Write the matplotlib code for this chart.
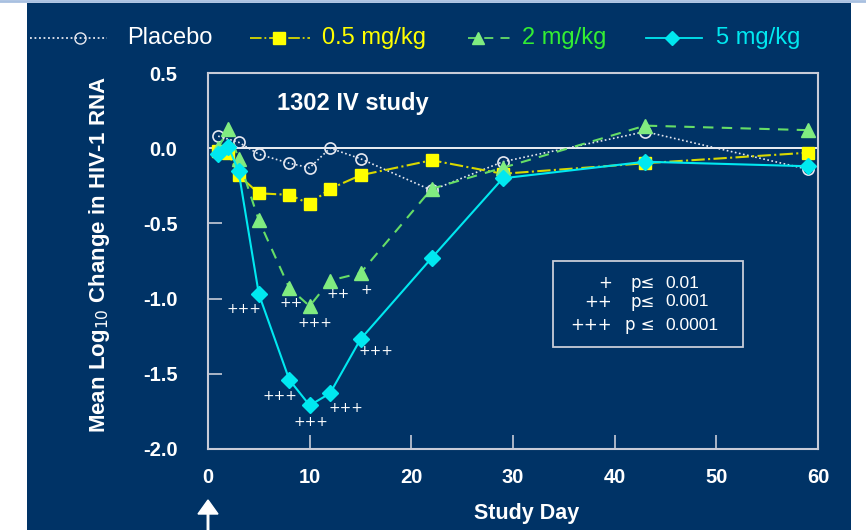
import matplotlib
matplotlib.use("Agg")
import matplotlib.pyplot as plt
from matplotlib.patches import Rectangle, FancyArrow
from matplotlib.lines import Line2D
from matplotlib import font_manager

# ---------------- data ----------------
days_placebo = [1, 3, 5, 8, 10, 12, 15, 22, 29, 43, 59]
placebo = [0.08, 0.04, -0.04, -0.10, -0.13, 0.00, -0.07, -0.28, -0.09, 0.11, -0.14]

days_dose = [1, 2, 3, 5, 8, 10, 12, 15, 22, 29, 43, 59]
mg05 = [-0.02, -0.03, -0.18, -0.30, -0.31, -0.37, -0.27, -0.18, -0.08, -0.17, -0.10, -0.03]
mg2 = [0.00, 0.13, -0.07, -0.48, -0.93, -1.05, -0.88, -0.83, -0.27, -0.13, 0.15, 0.12]
mg5 = [-0.04, 0.01, -0.15, -0.97, -1.54, -1.71, -1.63, -1.27, -0.73, -0.20, -0.09, -0.12]

# significance marks
sig_x = [3.5, 8.2, 10.5, 12.8, 15.6, 7.1, 10.1, 13.6, 16.5]
sig_y = [-1.07, -1.03, -1.16, -0.97, -0.94, -1.65, -1.82, -1.73, -1.35]
sig_lbl = ["+++", "++", "+++", "++", "+", "+++", "+++", "+++", "+++"]

xticks = [0, 10, 20, 30, 40, 50, 60]
yticks = [0.5, 0.0, -0.5, -1.0, -1.5, -2.0]

NAVY = "#003366"
SPINE = "#c8ccd8"
C_PLA = "#e6e8f0"
C_05 = "#ffff00"
C_05L = "#d8d800"
C_2 = "#80ec80"
C_2L = "#66dd66"
C_2T = "#33ee33"
C_5 = "#00e8f0"

plt.rcParams['font.family'] = ['Liberation Sans', 'DejaVu Sans']
installed = {f.name for f in font_manager.fontManager.ttflist}
NARROW = "Liberation Sans Narrow" if "Liberation Sans Narrow" in installed else "Liberation Sans"

fig = plt.figure(figsize=(8.66, 5.30), dpi=100)
fig.patch.set_facecolor("white")
W, H = 866, 530
fig.patches.append(Rectangle((27 / W, 0), (851 - 27) / W, 1 - 3 / H,
                             transform=fig.transFigure, facecolor=NAVY,
                             edgecolor="none", zorder=-5))
fig.lines.append(Line2D([0, 1], [1 - 0.5 / H, 1 - 0.5 / H], transform=fig.transFigure,
                        color="#a8c0e0", lw=2, zorder=-4))

ax = fig.add_axes([208 / W, 1 - 449 / H, (818 - 208) / W, (449 - 73) / H])
ax.set_zorder(1)
ax.set_facecolor(NAVY)
ax.set_xlim(0, 60)
ax.set_ylim(-2.0, 0.5)
for s in ax.spines.values():
    s.set_color(SPINE)
    s.set_linewidth(1.5)

ax.axhline(0, color="white", lw=1.3, zorder=1)

ax.plot(days_placebo, placebo, linestyle=(0, (1, 1.5)), color=C_PLA, lw=1.2,
        marker="o", ms=8, mfc="none", mec=C_PLA, mew=1.2, zorder=3, clip_on=False)
ax.plot(days_dose, mg05, linestyle="-.", color=C_05L, lw=1.5,
        marker="s", ms=8, mfc=C_05, mec=C_05, zorder=4, clip_on=False)
ax.plot(days_dose, mg2, linestyle=(0, (5, 4)), color=C_2L, lw=1.5,
        marker="^", ms=10, mfc=C_2, mec=C_2, zorder=5, clip_on=False)
ax.plot(days_dose, mg5, linestyle="-", color=C_5, lw=1.5,
        marker="D", ms=8, mfc=C_5, mec=C_5, zorder=6, clip_on=False)

for x, y, t in zip(sig_x, sig_y, sig_lbl):
    ax.text(x, y, t, color="white", fontsize=10, ha="center", va="center",
            family=["DejaVu Sans"], zorder=7)

ax.set_xticks(xticks)
ax.set_yticks(yticks)
ax.set_xticklabels([str(v) for v in xticks])
ax.set_yticklabels([f"{v:.1f}" for v in yticks])
ax.tick_params(axis="both", direction="in", length=10, width=1.2, color=SPINE,
               labelcolor="white", labelsize=14.5)
ax.tick_params(axis="x", pad=14)
ax.tick_params(axis="y", pad=22)
for lab in ax.get_xticklabels() + ax.get_yticklabels():
    lab.set_fontweight("bold")

fig.text(277 / W, 1 - 103 / H, "1302 IV study", color="white", fontsize=17,
         fontweight="bold", ha="left", va="center")

fig.text(100 / W, 1 - 254 / H, "Mean Log$_{10}$ Change in HIV-1 RNA", rotation=90,
         color="white", fontsize=16, fontweight="bold", ha="center", va="center",
         family=[NARROW, "DejaVu Sans"])
fig.text(527 / W, 1 - 513 / H, "Study Day", color="white", fontsize=15.5,
         fontweight="bold", ha="center", va="center")

# arrow at day 0
fig.patches.append(FancyArrow(
    208 / W, 0, 0, (530 - 500) / H, width=1.5 / W, head_width=20 / W,
    head_length=14 / H, length_includes_head=True, color="white",
    transform=fig.transFigure))

# p-value box
fig.patches.append(Rectangle((553 / W, 1 - 347 / H), (743 - 553) / W, (347 - 261) / H,
                             transform=fig.transFigure, facecolor="none",
                             edgecolor=SPINE, lw=1.3, zorder=3))
rows = [(283, "+", "p\u2264", "0.01"), (302, "++", "p\u2264", "0.001"),
        (325, "+++", "p \u2264", "0.0001")]
for y, sym, p, val in rows:
    fig.text(612 / W, 1 - y / H, sym, color="white", fontsize=12, ha="right",
             va="center", family=["DejaVu Sans"], zorder=3)
    fig.text(655 / W, 1 - y / H, p, color="white", fontsize=12, ha="right",
             va="center", family=["DejaVu Sans"], zorder=3)
    fig.text(665 / W, 1 - y / H, val, color="white", fontsize=12.5, ha="left",
             va="center", zorder=3)

# top legend
ly = 1 - 38 / H
legend_items = [
    ((30, 107), 80, dict(linestyle=(0, (1, 1.5)), color=C_PLA, marker="o", mfc="none",
                         mec=C_PLA, ms=8), "Placebo", 127, "white"),
    ((250, 310), 279, dict(linestyle="-.", color=C_05L, marker="s", mfc=C_05, mec=C_05,
                           ms=8), "0.5 mg/kg", 322, C_05),
    ((468, 512), 478, dict(linestyle=(0, (5, 4)), color=C_2L, marker="^", mfc=C_2, mec=C_2,
                           ms=9), "2 mg/kg", 522, C_2T),
    ((646, 702), 672, dict(linestyle="-", color=C_5, marker="D", mfc=C_5, mec=C_5,
                           ms=7), "5 mg/kg", 716, C_5),
]
for (x0, x1), xm, style, label, xt, tc in legend_items:
    st = dict(style)
    ls = st.pop("linestyle")
    col = st.pop("color")
    fig.lines.append(Line2D([x0 / W, x1 / W], [ly, ly], transform=fig.transFigure,
                            linestyle=ls, color=col, lw=1.3, zorder=3))
    fig.lines.append(Line2D([xm / W], [ly], transform=fig.transFigure,
                            linestyle="none", zorder=3, **st))
    fig.text(xt / W, ly, label, color=tc, fontsize=17, ha="left", va="center", zorder=3)

fig.savefig("out.png", dpi=100, facecolor=fig.get_facecolor())
